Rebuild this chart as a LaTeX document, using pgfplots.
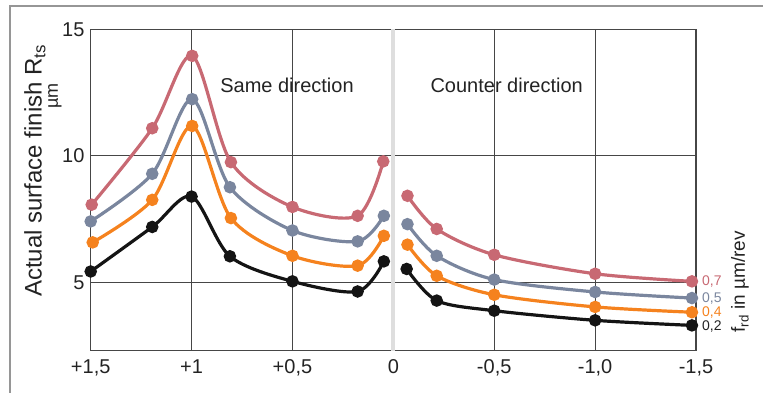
\documentclass[border=0pt]{standalone}
\usepackage{fontspec}
\setmainfont{Liberation Sans}
\usepackage{pgfplots}
\pgfplotsset{compat=1.18}
\definecolor{cpink}{RGB}{200,105,115}
\definecolor{cgray}{RGB}{122,134,158}
\definecolor{corange}{RGB}{245,130,30}
\definecolor{cblack}{RGB}{20,20,20}
\definecolor{gridc}{RGB}{70,70,70}
\definecolor{framec}{RGB}{150,150,150}
\definecolor{zeroc}{RGB}{222,222,222}
\definecolor{textc}{RGB}{35,35,35}
\begin{document}
\begin{tikzpicture}
\useasboundingbox (-90.7pt,-42.3pt) rectangle (672.3pt,350.7pt);
\draw[framec, line width=2pt] (700pt,344.7pt) -- (-80.7pt,344.7pt) -- (-80.7pt,-60pt);
\begin{axis}[
  at={(0pt,0pt)}, anchor=south west,
  scale only axis, width=605.3pt, height=321.4pt,
  x dir=reverse,
  xmin=-1.5, xmax=1.5, ymin=2.3, ymax=15,
  xtick={1.5,1,0.5,-0.5,-1,-1.5},
  xticklabels={{+1,5},{+1},{+0,5},{-0,5},{-1,0},{-1,5}},
  extra x ticks={0}, extra x tick labels={0},
  extra x tick style={grid style={zeroc, line width=4pt}},
  ytick={5,10,15}, yticklabels={5,10,15},
  grid=major, grid style={gridc, line width=1.2pt},
  axis line style={gridc, line width=1.2pt},
  major tick length=0pt,
  tick label style={font=\fontsize{20}{24}\selectfont, text=textc},
  xticklabel style={inner sep=0pt, yshift=-9pt},
  yticklabel style={inner sep=0pt, xshift=-6pt},
  clip=false,
  every axis plot/.append style={smooth, line width=3.2pt, mark=*, mark size=4.6pt, mark options={solid, draw=none}},
]
% f = 0.7
\addplot[color=cpink] coordinates {(1.495,8.07) (1.195,11.09) (0.997,13.95) (0.805,9.75) (0.5,7.98) (0.177,7.63) (0.05,9.78)};
\addplot[color=cpink] coordinates {(-0.07,8.42) (-0.215,7.11) (-0.5,6.09) (-1.0,5.34) (-1.48,5.04)};
% f = 0.5
\addplot[color=cgray] coordinates {(1.5,7.41) (1.195,9.29) (0.997,12.24) (0.81,8.76) (0.5,7.05) (0.177,6.62) (0.047,7.63)};
\addplot[color=cgray] coordinates {(-0.07,7.30) (-0.215,6.05) (-0.5,5.11) (-1.0,4.62) (-1.48,4.38)};
% f = 0.4
\addplot[color=corange] coordinates {(1.49,6.58) (1.195,8.26) (0.997,11.18) (0.805,7.54) (0.5,6.05) (0.177,5.66) (0.047,6.84)};
\addplot[color=corange] coordinates {(-0.07,6.49) (-0.215,5.26) (-0.5,4.51) (-1.0,4.03) (-1.48,3.82)};
% f = 0.2
\addplot[color=cblack] coordinates {(1.5,5.43) (1.195,7.19) (1.0,8.39) (0.81,6.03) (0.5,5.04) (0.177,4.64) (0.047,5.83)};
\addplot[color=cblack] coordinates {(-0.066,5.53) (-0.215,4.28) (-0.5,3.88) (-1.0,3.5) (-1.48,3.3)};
\node[anchor=west, inner sep=0pt, xshift=6pt, text=cpink, font=\fontsize{14}{16}\selectfont] at (axis cs:-1.5,5.04) {0,7};
\node[anchor=west, inner sep=0pt, xshift=6pt, text=cgray, font=\fontsize{14}{16}\selectfont] at (axis cs:-1.5,4.38) {0,5};
\node[anchor=west, inner sep=0pt, xshift=6pt, text=corange, font=\fontsize{14}{16}\selectfont] at (axis cs:-1.5,3.82) {0,4};
\node[anchor=west, inner sep=0pt, xshift=6pt, text=textc, font=\fontsize{14}{16}\selectfont] at (axis cs:-1.5,3.25) {0,2};
\end{axis}
\node[rotate=90, text=textc, font=\fontsize{24}{28}\selectfont] at (-55.7pt,180pt) {Actual surface finish R\textsubscript{ts}};
\node[rotate=90, text=textc, font=\fontsize{18}{21}\selectfont] at (-35.7pt,255pt) {µm};
\node[text=textc, font=\fontsize{20}{24}\selectfont] at (196.3pt,265.7pt) {Same direction};
\node[text=textc, font=\fontsize{20}{24}\selectfont] at (416pt,265.7pt) {Counter direction};
\node[rotate=90, text=textc, font=\fontsize{19}{22}\selectfont] at (649.3pt,68.7pt) {f\textsubscript{rd} in µm/rev};
\end{tikzpicture}
\end{document}
